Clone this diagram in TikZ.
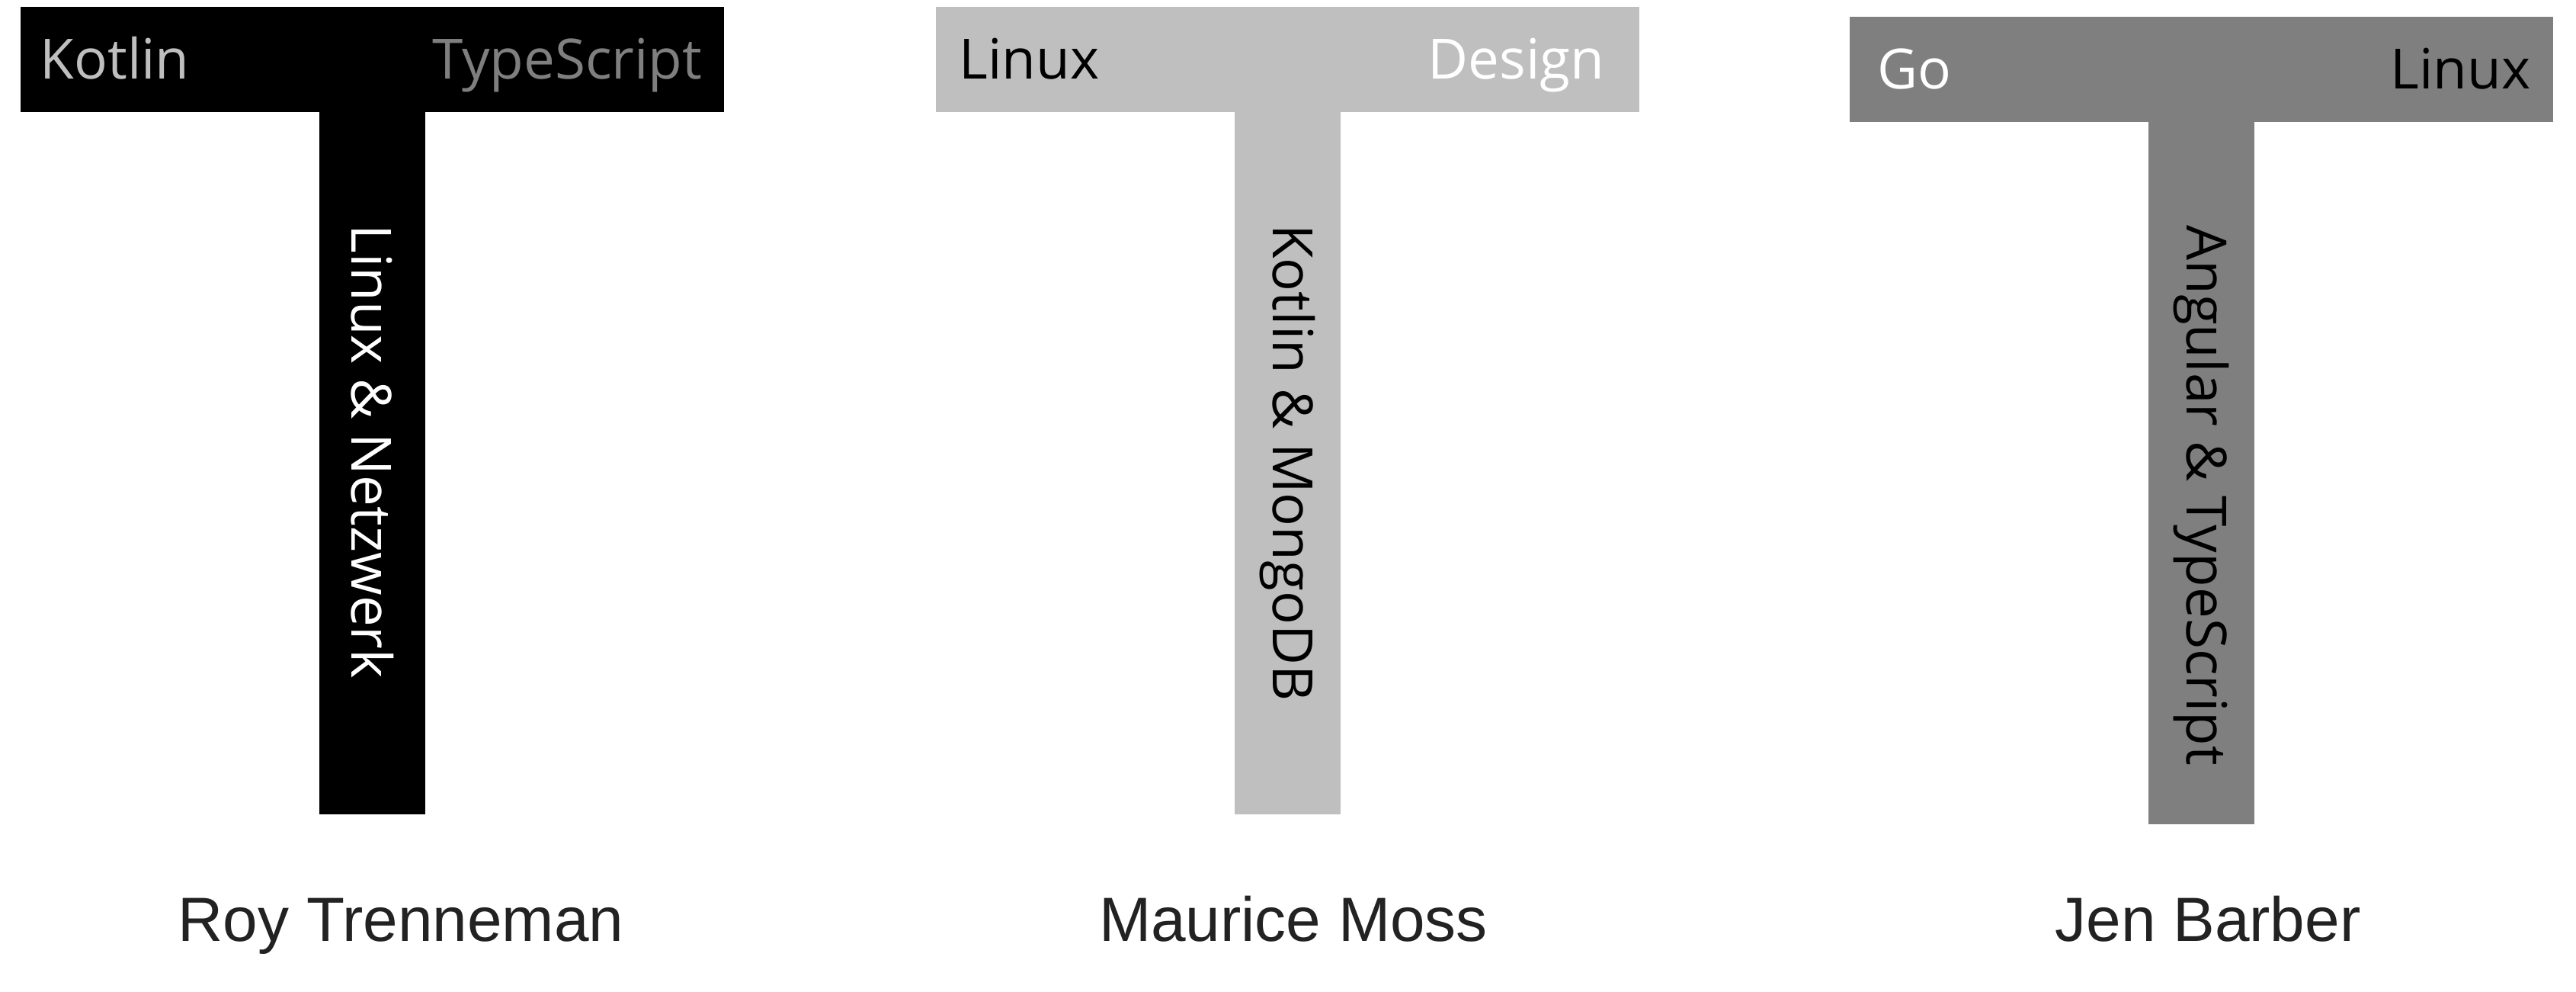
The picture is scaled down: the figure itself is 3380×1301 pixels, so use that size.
\documentclass[tikz,border=0pt]{standalone}
\usepackage{fontspec}
\setmainfont{Open Sans}
\newfontfamily\namefont{Liberation Sans}
\usetikzlibrary{positioning}
\usepackage{xcolor}
\definecolor{lightgray}{HTML}{BFBFBF}
\definecolor{midgray}{HTML}{7F7F7F}
\definecolor{namegray}{HTML}{222222}

\begin{document}
\begin{tikzpicture}[x=0.01cm,y=-0.01cm,
  bar/.style={rectangle,inner sep=0pt,minimum width=9.23cm,minimum height=1.38cm,anchor=north west},
  stem/.style={rectangle,inner sep=0pt,minimum width=1.38cm,minimum height=9.21cm},
  skill/.style={font=\fontsize{20.7}{24}\selectfont,inner sep=0pt},
  deep/.style={skill,rotate=-90,anchor=west},
  person/.style={font=\namefont\fontsize{23.3}{28}\selectfont,text=namegray,anchor=base,inner sep=0pt}]
\fill[white] (0,0) rectangle (3380,1301);
\useasboundingbox (0,0) rectangle (3380,1301);

% Roy
\node[bar,fill=black] (roybar) at (26,8) {};
\node[stem,fill=black,below=-0.02cm of roybar] (roystem) {};
\node[skill,anchor=base west,text=lightgray] (roya) at (52,104) {Kotlin};
\node[skill,anchor=base east,text=midgray] (royb) at (922,104) {TypeScript};
\node[deep,text=white,below=1.48cm of roystem.north,anchor=west] (royc) {Linux \& Netzwerk};
\node[person] (roy) at (526,1235) {Roy Trenneman};

% Maurice
\node[bar,fill=lightgray] (mossbar) at (1227,8) {};
\node[stem,fill=lightgray,below=-0.02cm of mossbar] (mossstem) {};
\node[skill,anchor=base west,text=black] (mossa) at (1258,104) {Linux};
\node[skill,anchor=base east,text=white] (mossb) at (2106,104) {Design};
\node[deep,text=black,below=1.48cm of mossstem.north,anchor=west] (mossc) {Kotlin \& MongoDB};
\node[person] (moss) at (1697,1235) {Maurice Moss};

% Jen
\node[bar,fill=midgray] (jenbar) at (2426,21) {};
\node[stem,fill=midgray,below=-0.02cm of jenbar] (jenstem) {};
\node[skill,anchor=base west,text=white] (jena) at (2463,117) {Go};
\node[skill,anchor=base east,text=black] (jenb) at (3321,117) {Linux};
\node[deep,text=black,below=1.36cm of jenstem.north,anchor=west] (jenc) {Angular \& TypeScript};
\node[person] (jen) at (2897,1235) {Jen Barber};
\end{tikzpicture}
\end{document}
